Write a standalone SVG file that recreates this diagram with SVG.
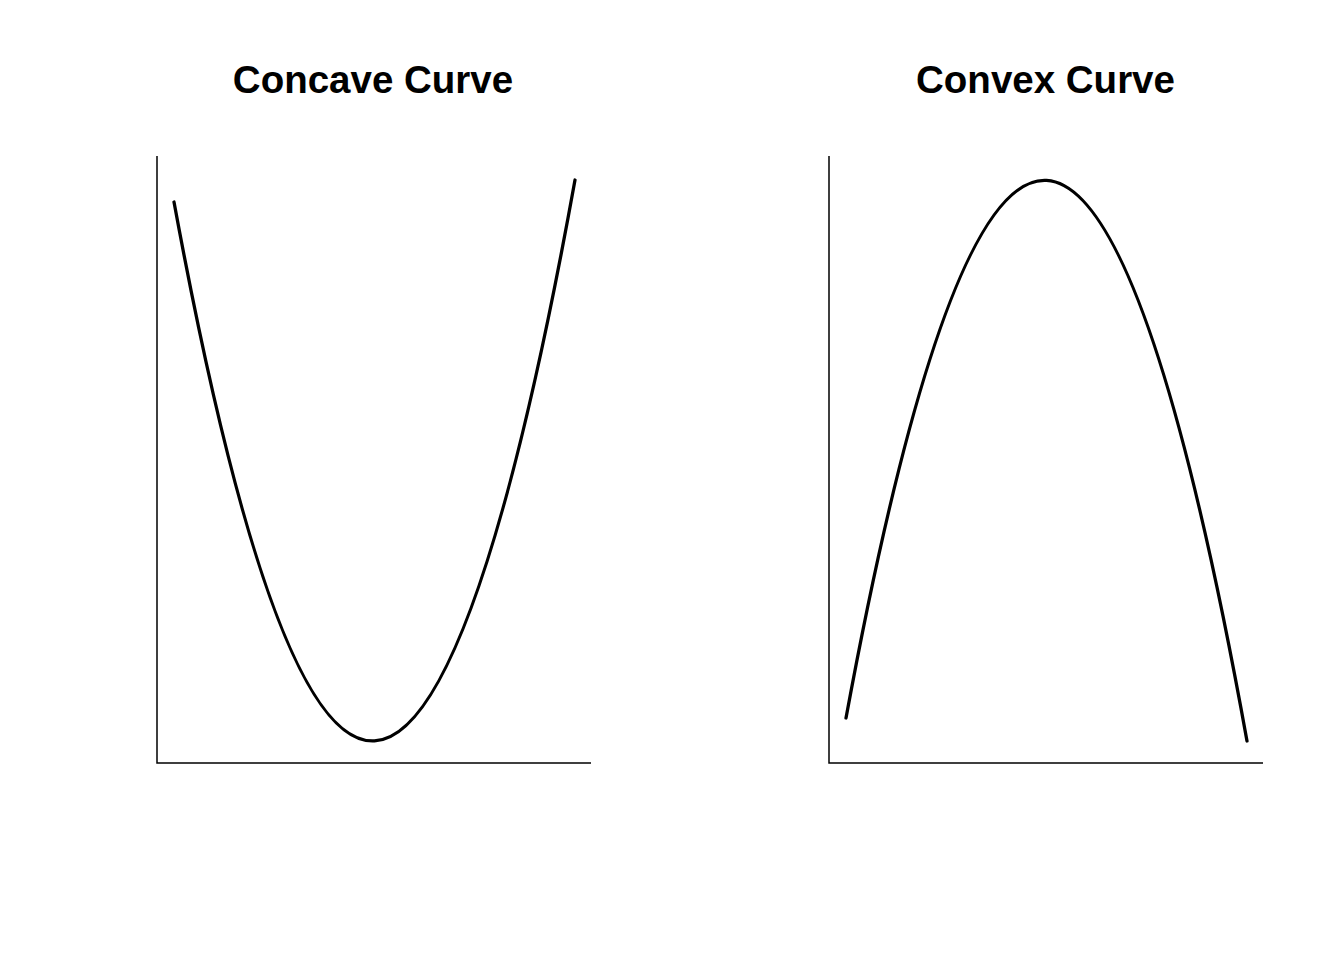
<svg xmlns="http://www.w3.org/2000/svg" width="1344" height="960" viewBox="0 0 1344 960">
<style>
.title{font-family:"Liberation Sans",Arial,sans-serif;font-weight:bold;font-size:38.5px;fill:#000;text-anchor:middle}
.axis{stroke:#000;stroke-width:1.5;fill:none;stroke-linecap:butt}
.curve{stroke:#000;stroke-width:3.3;fill:none;stroke-linecap:round}
</style>
<rect width="1344" height="960" fill="#fff"/>
<g id="concave-panel">
<text class="title" x="373" y="93">Concave Curve</text>
<path class="axis" d="M157,156 V763 H591"/>
<path class="curve" d="M174,202 Q374.5,1290.8 575,180"/>
</g>
<g id="convex-panel">
<text class="title" x="1045.5" y="93">Convex Curve</text>
<path class="axis" d="M829,156 V763 H1263"/>
<path class="curve" d="M846,718 Q1046.5,-368.8 1247,741"/>
</g>
</svg>
